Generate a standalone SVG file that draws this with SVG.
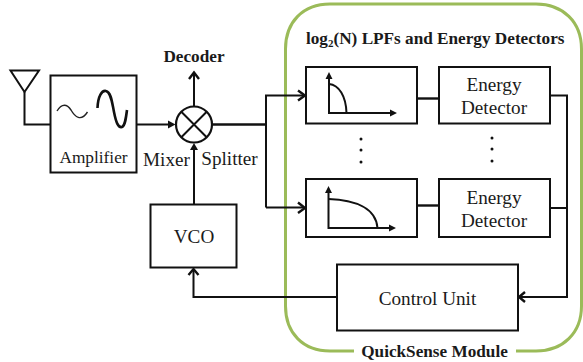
<svg xmlns="http://www.w3.org/2000/svg" width="583" height="362" viewBox="0 0 583 362">
<style>
text{font-family:"Liberation Serif","Times New Roman",serif;fill:#1a1a1a;text-anchor:middle}
.b{font-weight:bold;font-size:17.200px}
.t{font-size:19.200px}
.box{fill:#fff;stroke:#111;stroke-width:2}
.w{fill:none;stroke:#111;stroke-width:2}
.w3{fill:none;stroke:#111;stroke-width:2.400}
.ah{fill:none;stroke:#111;stroke-width:2.400}
.sm{fill:#111}
</style>
<g id="module">
<path d="M354 351H330C303 351 285.500 333 285.500 306V49C285.500 22 303 4 330 4H536C563 4 581.500 22 581.500 49V306C581.500 333 563 351 536 351H516" fill="none" stroke="#9bbb59" stroke-width="3"/>
<text class="b" x="434.500" y="357">QuickSense Module</text>
<text class="b" x="306" y="44" style="text-anchor:start">log<tspan font-size="11" dy="3">2</tspan><tspan dy="-3">(N) LPFs and Energy Detectors</tspan></text>
</g>
<g id="connectors">
<path class="w" d="M24.500 92V124.500H51"/>
<path class="w" d="M137 124.500H172"/>
<path d="M175.500 124.500L168 120.500V128.500Z" class="sm"/>
<path class="w" d="M194 106V74"/>
<path class="ah" d="M189 79L194 72.500L199 79"/>
<path class="w3" d="M213 124.500H266"/>
<path class="w" d="M266 207.500V95.500H304"/>
<path class="w" d="M266 207.500H304"/>
<path class="ah" d="M298 90.500L305 95.500L298 100.500"/>
<path class="ah" d="M298 202.500L305 208L298 213"/>
<path class="w" d="M194 205V145"/>
<path d="M194 143L190 150H198Z" class="sm"/>
<path class="w3" d="M417 98.500H439"/>
<path class="w3" d="M417 205.500H439"/>
<path class="w" d="M550 95.500H567V297H520"/>
<path class="w" d="M550 208H567"/>
<path class="ah" d="M525 292L519 297L525 302"/>
<path class="w" d="M337 297H193.500V270"/>
<path class="ah" d="M188.500 275L193.500 269L198.500 275"/>
</g>
<g id="antenna">
<path class="w" d="M10.500 70.500H39L24.500 92Z"/>
</g>
<g id="amplifier">
<rect class="box" x="50.500" y="75.500" width="86" height="97"/>
<path d="M57 111C62 103 67 104 71 110C75 117 81 122 87.500 112" fill="none" stroke="#222" stroke-width="1.400"/>
<path d="M97.500 108C98 96 102 90 106 91C111 92 112 102 114 112C116 122 118 128 122 127C125 126 126 118 127 110" fill="none" stroke="#111" stroke-width="2.600"/>
<text x="93.500" y="163" style="font-size:17.300px">Amplifier</text>
</g>
<g id="mixer">
<circle cx="194" cy="124.500" r="18" fill="#fff" stroke="#111" stroke-width="2.200"/>
<path class="w" d="M181.300 111.800L206.700 137.200M206.700 111.800L181.300 137.200"/>
<text class="t" x="166.500" y="166">Mixer</text>
</g>
<g id="splitter">
<text class="t" x="229.500" y="165">Splitter</text>
</g>
<g id="decoder">
<text class="b" x="194" y="62">Decoder</text>
</g>
<g id="vco">
<rect class="box" x="150.500" y="204.500" width="86" height="63"/>
<text class="t" x="194" y="243">VCO</text>
</g>
<g id="lpf1">
<rect class="box" x="306" y="67" width="111" height="56.500"/>
<path class="w" d="M329 78V113H393"/>
<path d="M329 72L325.500 79H332.500Z M397 113L390 109.500V116.500Z" class="sm"/>
<path class="w" d="M329 84C339 85 346 96 346.500 113"/>
</g>
<g id="detector1">
<rect class="box" x="439" y="67" width="111" height="56.500"/>
<text class="t" x="494" y="91">Energy</text>
<text class="t" x="494" y="114">Detector</text>
</g>
<g id="lpf2">
<rect class="box" x="306" y="179" width="111" height="58"/>
<path class="w" d="M328.500 191V228H392"/>
<path d="M328.500 186L325 193H332Z M396 228L389 224.500V231.500Z" class="sm"/>
<path class="w" d="M328.500 199C355 200 376 208 377.500 228"/>
</g>
<g id="detector2">
<rect class="box" x="439" y="179" width="111" height="58"/>
<text class="t" x="494" y="204">Energy</text>
<text class="t" x="494" y="227">Detector</text>
</g>
<g id="dots">
<circle class="sm" cx="361" cy="139" r="1.500"/><circle class="sm" cx="361" cy="150" r="1.500"/><circle class="sm" cx="361" cy="162" r="1.500"/>
<circle class="sm" cx="492" cy="138" r="1.500"/><circle class="sm" cx="492" cy="149" r="1.500"/><circle class="sm" cx="492" cy="161" r="1.500"/>
</g>
<g id="control">
<rect class="box" x="337" y="264.500" width="181" height="66"/>
<text class="t" x="427.500" y="305">Control Unit</text>
</g>
</svg>
